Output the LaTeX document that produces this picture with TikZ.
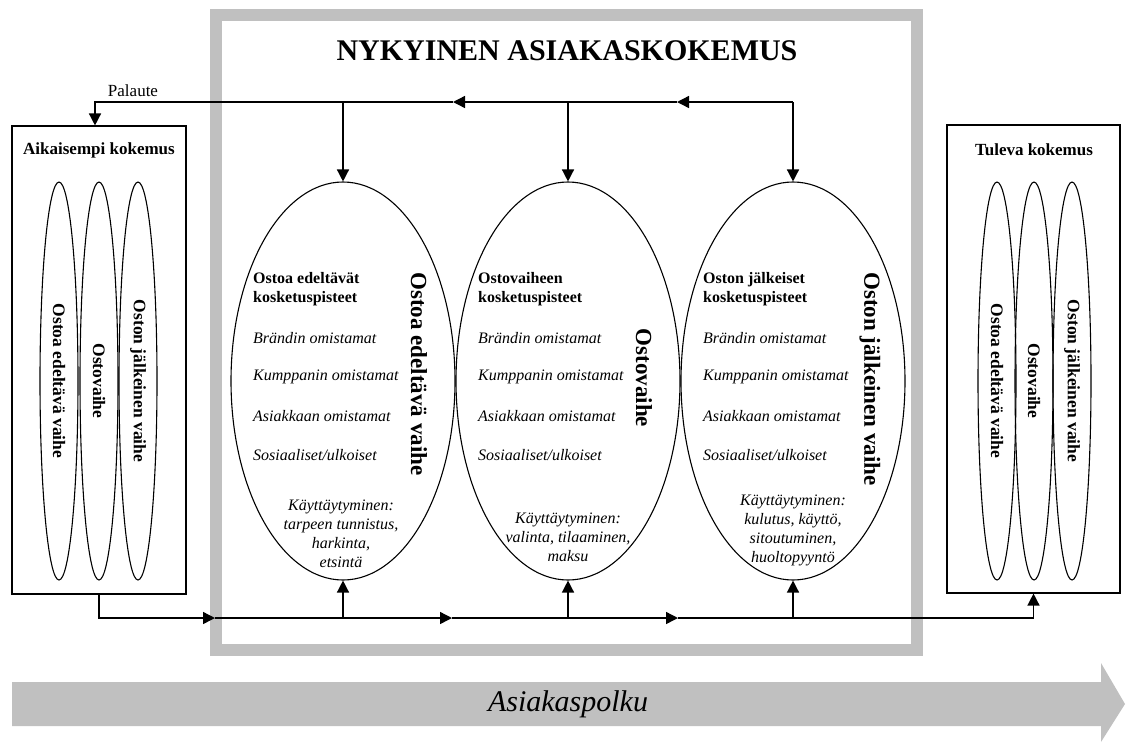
\documentclass[tikz,border=0pt]{standalone}
\usepackage{fontspec}
\setmainfont{Liberation Serif}
\usetikzlibrary{shapes.geometric,arrows.meta,calc}
\definecolor{framegray}{RGB}{192,192,192}
\begin{document}
\begin{tikzpicture}[x=1pt,y=-1pt,
 conn/.style={line width=1.4pt},
 arr/.style={conn,-{Triangle[length=12pt,width=12pt]}},
 bigell/.style={draw,ellipse,line width=1.1pt,minimum width=224pt,minimum height=398pt,inner sep=0pt},
 smallell/.style={draw,ellipse,line width=1.1pt,minimum width=398pt,minimum height=38pt,inner sep=0pt,rotate=-90,font=\bfseries\fontsize{17.5}{20}\selectfont},
 box/.style={draw,line width=1.1pt,minimum width=174pt,minimum height=468pt,inner sep=0pt},
 boxtitle/.style={font=\bfseries\fontsize{17}{20}\selectfont},
 head/.style={anchor=west,align=left,font=\bfseries\fontsize{16}{19}\selectfont,inner sep=0pt},
 item/.style={anchor=west,font=\itshape\fontsize{16}{19}\selectfont,inner sep=0pt},
 behav/.style={align=center,font=\itshape\fontsize{16}{19}\selectfont,inner sep=0pt},
 phase/.style={rotate=-90,font=\bfseries\fontsize{23}{27}\selectfont,inner sep=0pt},
]
\useasboundingbox (0,0) rectangle (1126,742);

% grey frame and journey arrow
\draw[framegray, line width=12pt] (216,14.5) rectangle (917,650);
\fill[framegray] (12,682) -- (1101,682) -- (1101,663) -- (1125,704) -- (1101,742) -- (1101,726) -- (12,726) -- cycle;
\node[font=\itshape\fontsize{30}{36}\selectfont] (journey) at (568,704) {Asiakaspolku};

\node[font=\bfseries\fontsize{30}{36}\selectfont] (title) at (567,51) {NYKYINEN ASIAKASKOKEMUS};

% side boxes
\node[box] (lbox) at (99,360) {};
\node[boxtitle] (ltitle) at (99,150) {Aikaisempi kokemus};
\node[smallell] (a1) at (59,381) {Ostoa edeltävä vaihe};
\node[smallell] (a2) at (99,381) {Ostovaihe};
\node[smallell] (a3) at (138,381) {Oston jälkeinen vaihe};

\node[box, minimum width=173pt] (rbox) at (1033.5,359) {};
\node[boxtitle] (rtitle) at (1034,150) {Tuleva kokemus};
\node[smallell] (c1) at (997,381) {Ostoa edeltävä vaihe};
\node[smallell] (c2) at (1034,381) {Ostovaihe};
\node[smallell] (c3) at (1072,381) {Oston jälkeinen vaihe};

% main ellipses
\node[bigell] (e1) at (343,381) {};
\node[bigell] (e2) at (568,381) {};
\node[bigell] (e3) at (793,381) {};

\node[head] (h1) at ($(e1.center)+(-90,-92)$) {Ostoa edeltävät\\kosketuspisteet};
\node[item] (i11) at ($(e1.center)+(-90,-43)$) {Brändin omistamat};
\node[item] (i12) at ($(e1.center)+(-90,-4)$) {Kumppanin omistamat};
\node[item] (i13) at ($(e1.center)+(-90,35)$) {Asiakkaan omistamat};
\node[item] (i14) at ($(e1.center)+(-90,74)$) {Sosiaaliset/ulkoiset};
\node[behav] (k1) at ($(e1.center)+(-2,153)$) {Käyttäytyminen:\\tarpeen tunnistus,\\harkinta,\\etsintä};
\node[phase] (p1) at ($(e1.center)+(76,-7)$) {Ostoa edeltävä vaihe};

\node[head] (h2) at ($(e2.center)+(-90,-92)$) {Ostovaiheen\\kosketuspisteet};
\node[item] (i21) at ($(e2.center)+(-90,-43)$) {Brändin omistamat};
\node[item] (i22) at ($(e2.center)+(-90,-4)$) {Kumppanin omistamat};
\node[item] (i23) at ($(e2.center)+(-90,35)$) {Asiakkaan omistamat};
\node[item] (i24) at ($(e2.center)+(-90,74)$) {Sosiaaliset/ulkoiset};
\node[behav] (k2) at ($(e2.center)+(0,156)$) {Käyttäytyminen:\\valinta, tilaaminen,\\maksu};
\node[phase] (p2) at ($(e2.center)+(76,-3)$) {Ostovaihe};

\node[head] (h3) at ($(e3.center)+(-90,-92)$) {Oston jälkeiset\\kosketuspisteet};
\node[item] (i31) at ($(e3.center)+(-90,-43)$) {Brändin omistamat};
\node[item] (i32) at ($(e3.center)+(-90,-4)$) {Kumppanin omistamat};
\node[item] (i33) at ($(e3.center)+(-90,35)$) {Asiakkaan omistamat};
\node[item] (i34) at ($(e3.center)+(-90,74)$) {Sosiaaliset/ulkoiset};
\node[behav] (k3) at ($(e3.center)+(0,149)$) {Käyttäytyminen:\\kulutus, käyttö,\\sitoutuminen,\\huoltopyyntö};
\node[phase] (p3) at ($(e3.center)+(77,-2)$) {Oston jälkeinen vaihe};

% feedback line at top
\coordinate (t3) at (793,102);
\coordinate (t2) at (568,102);
\coordinate (t1) at (343,102);
\coordinate (ta) at (677,102);
\coordinate (tb) at (453,102);
\coordinate (t0) at (95,102);
\node[font=\fontsize{17}{20}\selectfont] (pal) at (133,91) {Palaute};
\draw[arr] (t3) -- (ta);
\draw[arr] (ta) -- (tb);
\draw[arr] (tb) -| (t0 |- lbox.north);
\draw[arr] (t1) -- (e1.north);
\draw[arr] (t2) -- (e2.north);
\draw[arr] (t3) -- (e3.north);

% flow line at bottom
\coordinate (ba) at (215,618);
\coordinate (bb) at (452,618);
\coordinate (bc) at (678,618);
\coordinate (b1) at (343,618);
\coordinate (b2) at (568,618);
\coordinate (b3) at (793,618);
\draw[arr] (lbox.south) |- (ba);
\draw[arr] (ba) -- (bb);
\draw[arr] (bb) -- (bc);
\draw[arr] (bc) -| (rbox.south);
\draw[arr] (b1) -- (e1.south);
\draw[arr] (b2) -- (e2.south);
\draw[arr] (b3) -- (e3.south);
\end{tikzpicture}
\end{document}
